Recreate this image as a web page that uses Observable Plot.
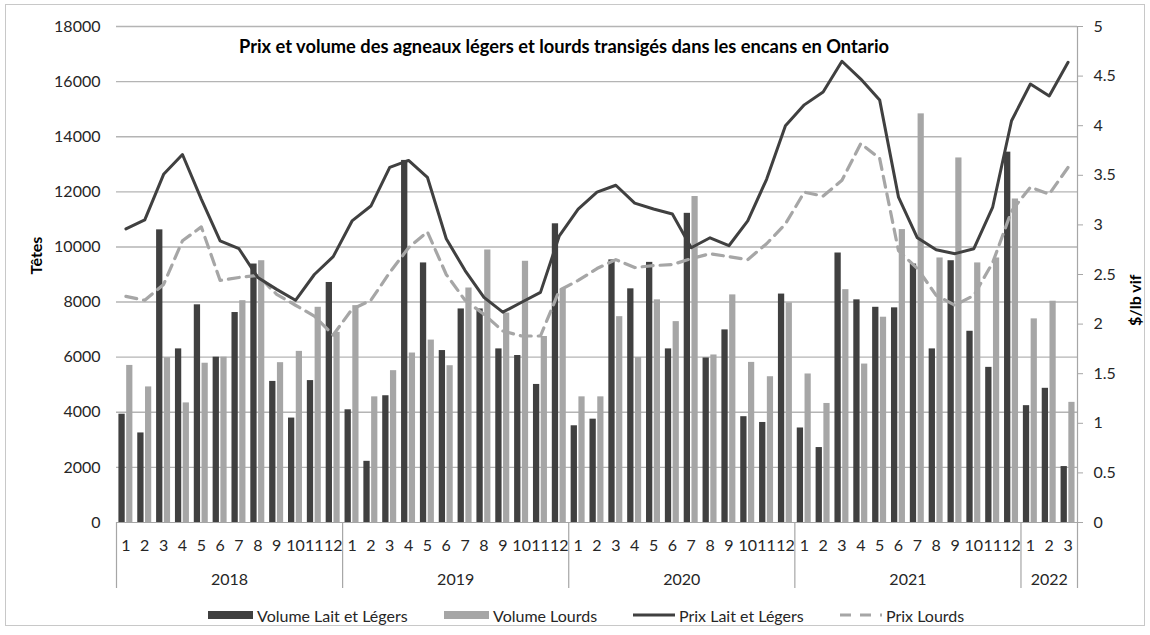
<!DOCTYPE html>
<html>
<head>
<meta charset="utf-8">
<script src="https://cdn.jsdelivr.net/npm/d3@7"></script>
<script src="https://cdn.jsdelivr.net/npm/@observablehq/plot@0.6"></script>
<style>
  html, body { margin: 0; padding: 0; background: #fff; }
  body { width: 1150px; height: 635px; position: relative; overflow: hidden; font-family: Lato, "Open Sans", sans-serif; color: #262626; }
  #frame { position: absolute; left: 5px; top: 4px; width: 1140px; height: 622px; border: 1px solid #c8c8c8; box-sizing: border-box; }
  #chart { position: absolute; left: 0; top: 0; }
  #legend { position: absolute; top: 603px; left: 0; width: 1150px; height: 24px; font-size: 16px; }
  .item { position: absolute; top: 0; height: 24px; display: flex; align-items: center; white-space: nowrap; }
  .item svg { margin-right: 4px; }
</style>
</head>
<body>
<div id="frame"></div>
<div id="chart"></div>
<div id="legend"></div>
<script>
const title = "Prix et volume des agneaux légers et lourds transigés dans les encans en Ontario";
const years = [2018, 2019, 2020, 2021, 2022];
const monthsPerYear = [12, 12, 12, 12, 3];
const monthLabels = [
  "1","2","3","4","5","6","7","8","9","10","11","12",
  "1","2","3","4","5","6","7","8","9","10","11","12",
  "1","2","3","4","5","6","7","8","9","10","11","12",
  "1","2","3","4","5","6","7","8","9","10","11","12",
  "1","2","3"
];
const seriesNames = ["Volume Lait et Légers", "Volume Lourds", "Prix Lait et Légers", "Prix Lourds"];
const volumeLaitLegers = [
  3930, 3250, 10620, 6300, 7900, 6000, 7620, 9380, 5120, 3790, 5150, 8710,
  4090, 2220, 4600, 13140, 9420, 6240, 7750, 7750, 6300, 6060, 5010, 10840,
  3510, 3750, 9530, 8480, 9440, 6300, 11220, 5970, 6990, 3840, 3630, 8290,
  3430, 2720, 9780, 8080, 7810, 7790, 9380, 6300, 9500, 6940, 5630, 13440,
  4240, 4870, 2030
];
const volumeLourds = [
  5700, 4920, 5980, 4340, 5780, 6000, 8050, 9500, 5800, 6210, 7810, 6900,
  7870, 4560, 5510, 6150, 6620, 5690, 8510, 9890, 7600, 9480, 6750, 8470,
  4560, 4560, 7470, 5990, 8080, 7290, 11830, 6080, 8260, 5810, 5290, 7970,
  5390, 4320, 8450, 5750, 7450, 10630, 14830, 9600, 13230, 9420, 9600, 11740,
  7390, 8030, 4360
];
const prixLaitLegers = [
  2.96, 3.05, 3.51, 3.71, 3.26, 2.84, 2.76, 2.47, 2.35, 2.24, 2.50, 2.68,
  3.04, 3.19, 3.58, 3.65, 3.48, 2.86, 2.54, 2.27, 2.12, 2.22, 2.32, 2.89,
  3.16, 3.33, 3.40, 3.22, 3.16, 3.11, 2.77, 2.87, 2.79, 3.04, 3.46, 4.00,
  4.21, 4.34, 4.65, 4.47, 4.26, 3.28, 2.87, 2.75, 2.71, 2.76, 3.18, 4.05,
  4.42, 4.30, 4.64
];
const prixLourds = [
  2.28, 2.24, 2.40, 2.84, 2.98, 2.44, 2.47, 2.49, 2.30, 2.19, 2.08, 1.89,
  2.15, 2.24, 2.52, 2.77, 2.93, 2.50, 2.24, 2.10, 1.93, 1.88, 1.88, 2.34,
  2.44, 2.56, 2.65, 2.57, 2.59, 2.60, 2.66, 2.71, 2.68, 2.65, 2.81, 3.01,
  3.33, 3.29, 3.45, 3.82, 3.67, 2.74, 2.56, 2.29, 2.19, 2.29, 2.62, 3.14,
  3.38, 3.31, 3.58
];
const leftTicks = [0, 2000, 4000, 6000, 8000, 10000, 12000, 14000, 16000, 18000];
const rightTicks = [0, 0.5, 1, 1.5, 2, 2.5, 3, 3.5, 4, 4.5, 5];

const volMax = 18000, prixMax = 5;
const k = volMax / prixMax; // secondary axis mapped onto primary

const rows = monthLabels.map((m, i) => ({
  i, m,
  vLL: volumeLaitLegers[i], vL: volumeLourds[i],
  pLL: prixLaitLegers[i] * k, pL: prixLourds[i] * k
}));

// year boundaries & centres derived from months per year
const bounds = [0];
monthsPerYear.forEach(n => bounds.push(bounds[bounds.length - 1] + n));
const yearCentres = years.map((y, j) => ({year: y, x: (bounds[j] + bounds[j + 1]) / 2}));
const N = monthLabels.length;

const dark = "#404040", light = "#a6a6a6", grid = "#b4b4b4", axisGray = "#a6a6a6", ink = "#262626";

const plot = Plot.plot({
  width: 1150,
  height: 600,
  marginLeft: 116,
  marginRight: 73,
  marginTop: 26,
  marginBottom: 78,
  style: {fontFamily: "Lato, 'Open Sans', sans-serif", fontSize: "16px", color: ink, background: "transparent"},
  x: {type: "linear", domain: [0, N]},
  y: {domain: [0, volMax]},
  marks: [
    Plot.gridY(leftTicks.slice(1), {stroke: grid, strokeOpacity: 1, strokeWidth: 1.4}),
    Plot.rectY(rows, {x1: d => d.i + 0.128, x2: d => d.i + 0.462, y1: 0, y2: "vLL", fill: dark}),
    Plot.rectY(rows, {x1: d => d.i + 0.54, x2: d => d.i + 0.87, y1: 0, y2: "vL", fill: light}),
    Plot.ruleY([0], {stroke: axisGray, strokeWidth: 1.2}),
    Plot.ruleX([N], {stroke: axisGray, strokeWidth: 1.2}),
    Plot.line(rows, {x: d => d.i + 0.5, y: "pL", stroke: light, strokeWidth: 3.2, strokeDasharray: "11,7", strokeLinejoin: "round"}),
    Plot.line(rows, {x: d => d.i + 0.5, y: "pLL", stroke: dark, strokeWidth: 3, strokeLinejoin: "round"}),
    Plot.axisY(leftTicks, {anchor: "left", tickSize: 0, tickPadding: 16, fill: ink, label: null,
      tickFormat: v => String(v)}),
    Plot.axisY(rightTicks.map(v => v * k), {anchor: "right", tickSize: 5, tickPadding: 11, stroke: axisGray, fill: ink, label: null,
      tickFormat: v => String(Math.round(v / k * 10) / 10)}),
    Plot.axisX(rows.map(d => d.i + 0.5), {anchor: "bottom", tickSize: 0, tickPadding: 17, fill: ink, label: null,
      tickFormat: v => monthLabels[Math.floor(v)]}),
    Plot.axisX(yearCentres.map(d => d.x), {anchor: "bottom", tickSize: 0, tickPadding: 51, fill: ink, label: null,
      tickFormat: v => String(yearCentres.find(d => d.x === v).year)}),
    Plot.axisX(bounds, {anchor: "bottom", tickSize: 66, stroke: axisGray, strokeWidth: 1.2, label: null, tickFormat: () => ""}),
    Plot.text([title], {frameAnchor: "top", dx: -33, dy: 21, lineAnchor: "middle", fontWeight: "bold", fontSize: 18.3, fill: "#000"}),
    Plot.text(["Têtes"], {frameAnchor: "left", dx: -80, rotate: -90, fontWeight: "bold", fontSize: 16, fill: "#000"}),
    Plot.text(["$/lb vif"], {frameAnchor: "right", dx: 58, rotate: -90, fontWeight: "bold", fontSize: 16, fill: "#000"})
  ]
});
document.getElementById("chart").appendChild(plot);

// legend
const legend = document.getElementById("legend");
const legendLeft = [208, 444, 633, 840];
const swatch = [
  `<svg width="45" height="10"><rect x="0" y="1" width="45" height="8" fill="${dark}"/></svg>`,
  `<svg width="45" height="10"><rect x="0" y="1" width="45" height="8" fill="${light}"/></svg>`,
  `<svg width="42" height="10"><line x1="0" x2="42" y1="5" y2="5" stroke="${dark}" stroke-width="3"/></svg>`,
  `<svg width="42" height="10"><line x1="0" x2="42" y1="5" y2="5" stroke="${light}" stroke-width="3" stroke-dasharray="11,9"/></svg>`
];
seriesNames.forEach((name, j) => {
  const d = document.createElement("div");
  d.className = "item";
  d.style.left = legendLeft[j] + "px";
  d.innerHTML = swatch[j] + `<span>${name}</span>`;
  legend.appendChild(d);
});
</script>
</body>
</html>
